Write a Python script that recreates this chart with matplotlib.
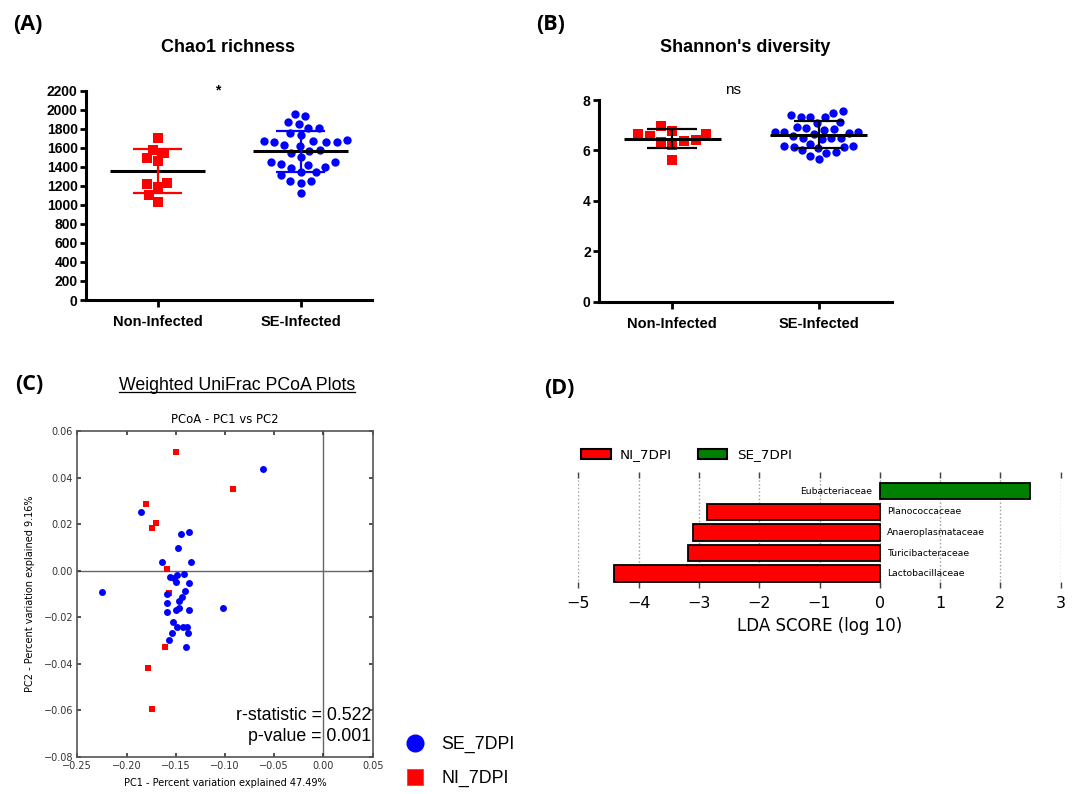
import matplotlib
matplotlib.use("Agg")
import matplotlib.pyplot as plt
import matplotlib.patches as mpatches
from matplotlib.lines import Line2D
from matplotlib.ticker import FuncFormatter
import numpy as np

plt.rcParams["font.family"] = ["Liberation Sans", "DejaVu Sans"]

W, H, DPI = 1077, 794, 100

groups = ["Non-Infected", "SE-Infected"]

# (A) Chao1 richness
chao_ni = [1700, 1550, 1580, 1460, 1490, 1220, 1230, 1190, 1100, 1030]
chao_se = [1955, 1934, 1871, 1850, 1808, 1808, 1752, 1734, 1664, 1682, 1671,
           1629, 1657, 1664, 1674, 1622, 1566, 1577, 1541, 1506, 1447, 1422,
           1384, 1429, 1450, 1401, 1345, 1310, 1345, 1247, 1233, 1251, 1121]

# (B) Shannon's diversity
shannon_ni = [6.64, 6.42, 6.35, 6.79, 6.97, 6.38, 6.59, 6.65, 6.22, 5.62]
shannon_se = [7.57, 7.41, 7.34, 7.34, 7.34, 7.50, 7.10, 7.13, 6.88, 6.84, 6.94,
              6.64, 6.72, 6.71, 6.75, 6.75, 6.81, 6.51, 6.44, 6.48, 6.51, 6.58,
              6.15, 6.02, 6.19, 6.19, 6.26, 5.95, 6.09, 6.15, 5.89, 5.66, 5.78]

# (C) weighted UniFrac PCoA
pc1_ni = [-0.150, -0.0915, -0.180, -0.170, -0.1745, -0.1586, -0.1565, -0.161,
          -0.178, -0.1745]
pc2_ni = [0.051, 0.0349, 0.0285, 0.0203, 0.0183, 0.0007, -0.0098, -0.033,
          -0.0417, -0.0594]
pc1_se = [-0.0617, -0.1853, -0.145, -0.1362, -0.1477, -0.1643, -0.1342, -0.225,
          -0.1559, -0.1518, -0.1491, -0.1501, -0.142, -0.1362, -0.1593, -0.1409,
          -0.144, -0.1464, -0.1593, -0.1017, -0.1471, -0.1501, -0.1362, -0.1593,
          -0.1525, -0.1491, -0.143, -0.1389, -0.1379, -0.1542, -0.1565, -0.1396]
pc2_se = [0.0438, 0.0253, 0.0157, 0.0164, 0.0098, 0.0038, 0.0037, -0.0094,
          -0.0026, -0.0033, -0.0019, -0.0048, -0.0015, -0.0055, -0.0101, -0.0086,
          -0.0112, -0.0131, -0.0141, -0.0162, -0.0162, -0.0170, -0.0170, -0.018,
          -0.022, -0.0241, -0.0244, -0.0241, -0.027, -0.027, -0.0298, -0.0327]

# (D) LEfSe LDA scores (bottom to top)
lda_taxa = ["Lactobacillaceae", "Turicibacteraceae", "Anaeroplasmataceae",
            "Planococcaceae", "Eubacteriaceae"]
lda_score = [-4.41, -3.18, -3.09, -2.86, 2.49]

RED = "#ff0000"
BLUE = "#0000ff"
GREEN = "#008000"


def frac(x0, y0, x1, y1):
    # pixel box (top-left origin) -> figure fraction rect
    return [x0 / W, 1 - y1 / H, (x1 - x0) / W, (y1 - y0) / H]


def swarm(ax, xc, vals, diam):
    # simple beeswarm in display pixels, returns data x positions
    pts = ax.transData.transform(np.column_stack([np.full(len(vals), xc), vals]))
    ys = pts[:, 1]
    offs = np.zeros(len(vals))
    placed = []
    for i in np.argsort(ys):
        y = ys[i]
        near = [(px, py) for px, py in placed if abs(py - y) < diam]
        cands = [0.0]
        for px, py in near:
            dx = np.sqrt(diam ** 2 - (py - y) ** 2)
            cands += [px - dx, px + dx]
        cands.sort(key=lambda c: (round(abs(c), 3), c))
        for c in cands:
            if all((c - px) ** 2 + (y - py) ** 2 >= diam ** 2 - 1e-6 for px, py in near):
                offs[i] = c
                break
        placed.append((offs[i], y))
    x0 = pts[0, 0]
    back = ax.transData.inverted().transform(np.column_stack([x0 + offs, ys]))
    return back[:, 0]


def dot_panel(ax, series, ylim, yticks, bar_colors, diams):
    ax.set_xlim(-0.5, 1.5)
    ax.set_ylim(*ylim)
    styles = [("s", RED, 46), ("o", BLUE, 36)]
    for i, vals in enumerate(series):
        marker, color, size = styles[i]
        xs = swarm(ax, i, vals, diams[i])
        ax.scatter(xs, vals, marker=marker, s=size, color=color, linewidths=0,
                   zorder=2, clip_on=False)
        m = np.mean(vals)
        sd = np.std(vals, ddof=1)
        bc = bar_colors[i]
        ax.hlines(m, i - 0.33, i + 0.33, color="black", lw=2.2, zorder=3)
        ax.hlines([m - sd, m + sd], i - 0.17, i + 0.17, color=bc, lw=1.6, zorder=3)
        ax.vlines(i, m - sd, m + sd, color=bc, lw=1.6, zorder=3)
    for s in ("top", "right"):
        ax.spines[s].set_visible(False)
    for s in ("left", "bottom"):
        ax.spines[s].set_linewidth(2.2)
    ax.set_xticks([0, 1])
    ax.set_xticklabels(groups, fontsize=10.5, fontweight="bold")
    ax.set_yticks(yticks)
    ax.set_yticklabels([str(t) for t in yticks], fontsize=10, fontweight="bold")
    ax.tick_params(axis="both", direction="out", width=2, length=4, pad=2)
    ax.tick_params(axis="x", length=5, pad=6)


fig = plt.figure(figsize=(W / DPI, H / DPI), dpi=DPI)

# ---- (A)
axA = fig.add_axes(frac(86, 90.7, 372, 300))
dot_panel(axA, [chao_ni, chao_se], (0, 2200), list(range(0, 2201, 200)),
          [RED, BLUE], [10.5, 10.5])
axA.text(0.46, 1.0, "*", transform=axA.transAxes, ha="center", va="center",
         fontsize=10, fontweight="bold")
fig.text(228 / W, 1 - 47 / H, "Chao1 richness", ha="center", va="center",
         fontsize=13, fontweight="bold")

# ---- (B)
axB = fig.add_axes(frac(599, 100, 892, 301.7))
dot_panel(axB, [shannon_ni, shannon_se], (0, 8), [0, 2, 4, 6, 8],
          ["black", "black"], [12, 9.5])
axB.text(0.457, 1.05, "ns", transform=axB.transAxes, ha="center", va="center",
         fontsize=11)
fig.text(745 / W, 1 - 47 / H, "Shannon's diversity", ha="center", va="center",
         fontsize=13, fontweight="bold")

# ---- (C)
axC = fig.add_axes(frac(77.3, 431, 372.7, 756.7))
axC.scatter(pc1_ni, pc2_ni, marker="s", s=18, color=RED, linewidths=0, zorder=2)
axC.scatter(pc1_se, pc2_se, marker="o", s=25, color=BLUE, linewidths=0, zorder=3)
axC.axhline(0, color="#666666", lw=1, zorder=1)
axC.axvline(0, color="#666666", lw=1, zorder=1)
axC.set_xlim(-0.25, 0.05)
axC.set_ylim(-0.08, 0.06)
axC.set_xticks(np.arange(-0.25, 0.051, 0.05))
axC.set_yticks(np.arange(-0.08, 0.061, 0.02))
fmt = FuncFormatter(lambda v, p: f"{v:.2f}".replace("-", "\u2212")
                    if abs(v) > 1e-9 else "0.00")
axC.xaxis.set_major_formatter(fmt)
axC.yaxis.set_major_formatter(fmt)
axC.tick_params(axis="both", direction="in", length=3, width=1.2, top=True,
                right=True, labelsize=7, pad=3, colors="#333333")
for lab in axC.get_xticklabels() + axC.get_yticklabels():
    lab.set_family("DejaVu Sans")
for s in axC.spines.values():
    s.set_color("#555555")
    s.set_linewidth(1.2)
axC.set_xlabel("PC1 - Percent variation explained 47.49%", fontsize=7,
               family="DejaVu Sans", labelpad=5)
axC.set_ylabel("PC2 - Percent variation explained 9.16%", fontsize=7,
               family="DejaVu Sans", labelpad=6)
axC.set_title("PCoA - PC1 vs PC2", fontsize=8.4, family="DejaVu Sans", pad=6)
axC.text(0.995, 0.125, "r-statistic = 0.522", transform=axC.transAxes,
         ha="right", va="center", fontsize=12.8)
axC.text(0.995, 0.062, "p-value = 0.001", transform=axC.transAxes,
         ha="right", va="center", fontsize=12.8)
titleC = fig.text(237 / W, 1 - 385 / H, "Weighted UniFrac PCoA Plots",
                  ha="center", va="center", fontsize=12.8)

legC = [Line2D([], [], marker="o", ls="none", color=BLUE, markersize=12,
               label="SE_7DPI"),
        Line2D([], [], marker="s", ls="none", color=RED, markersize=11,
               markeredgecolor="#6a6aa0", markeredgewidth=0.6, label="NI_7DPI")]
fig.legend(handles=legC, loc="upper left",
           bbox_to_anchor=(406 / W, 1 - 736 / H), frameon=False,
           fontsize=12.8, handlelength=1.0, handletextpad=1.0, labelspacing=0.95,
           borderpad=0, borderaxespad=0)

# ---- (D)
axD = fig.add_axes(frac(578.3, 471.7, 1060.7, 588))
ypos = np.arange(len(lda_taxa))
colsD = [GREEN if v > 0 else RED for v in lda_score]
axD.barh(ypos, lda_score, height=0.8, color=colsD, edgecolor="black",
         linewidth=1.3, zorder=3)
for y, v, name in zip(ypos, lda_score, lda_taxa):
    if v < 0:
        axD.text(0.12, y, name, ha="left", va="center", fontsize=6.7,
                 family="DejaVu Sans")
    else:
        axD.text(-0.12, y, name, ha="right", va="center", fontsize=6.7,
                 family="DejaVu Sans")
axD.set_xlim(-5, 3)
axD.set_ylim(-0.7, 4.95)
axD.set_xticks(range(-5, 4))
axD.set_xticklabels([str(t).replace("-", "\u2212") for t in range(-5, 4)],
                    fontsize=11.5, family="DejaVu Sans")
axD.set_yticks([])
axD.grid(axis="x", linestyle=":", color="#999999", lw=1, zorder=0)
for s in axD.spines.values():
    s.set_visible(False)
axD.tick_params(axis="x", direction="in", length=4, width=1, top=True,
                color="#444444", pad=6)
axD.set_xlabel("LDA SCORE (log 10)", fontsize=12, family="DejaVu Sans",
               labelpad=4)
legD = [mpatches.Patch(facecolor=RED, edgecolor="black", lw=1.5, label="NI_7DPI"),
        mpatches.Patch(facecolor=GREEN, edgecolor="black", lw=1.5, label="SE_7DPI")]
fig.legend(handles=legD, loc="center left",
           bbox_to_anchor=(581 / W, 1 - 455 / H), ncol=2, frameon=False,
           prop={"family": "DejaVu Sans", "size": 9.7}, handlelength=2.2,
           handleheight=0.75, handletextpad=0.7, columnspacing=1.9,
           borderpad=0, borderaxespad=0)

# ---- panel letters
for lab, x, y in [("(A)", 13, 25), ("(B)", 536, 25), ("(C)", 15, 385),
                  ("(D)", 544, 388)]:
    fig.text(x / W, 1 - y / H, lab, ha="left", va="center", fontsize=15.5,
             fontweight="bold", family=["Open Sans", "DejaVu Sans"])

# underline for the (C) heading
fig.canvas.draw()
bb = titleC.get_window_extent(fig.canvas.get_renderer())
bb = bb.transformed(fig.transFigure.inverted())
fig.add_artist(Line2D([bb.x0, bb.x1], [bb.y0 + 0.002, bb.y0 + 0.002],
                      transform=fig.transFigure, color="black", lw=0.9))

fig.savefig("out.png", dpi=DPI)
